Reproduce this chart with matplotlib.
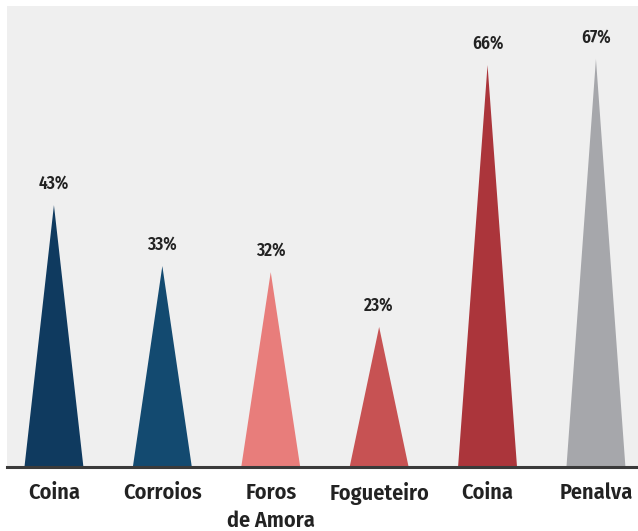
import numpy as np
import matplotlib
matplotlib.use("Agg")
import matplotlib.pyplot as plt

OUT_FILE = "out.png"

places = ["Coina", "Corroios", "Foros\nde Amora", "Fogueteiro", "Coina", "Penalva"]
shares = [43, 33, 32, 23, 66, 67]
colors = ["#0f3a5f", "#134a70", "#e87d7b", "#c75253", "#ab353b", "#a6a7ab"]

FONT = ["Fira Sans Condensed", "DejaVu Sans"]
HALF_WIDTH = 0.272

plt.rcParams['font.family'] = FONT

fig = plt.figure(figsize=(6.38, 5.31), dpi=100)
fig.patch.set_facecolor("white")
# paper-coloured plotting area, white margin on the left and top
ax = fig.add_axes([7 / 638, 64 / 531, 631 / 638, 461 / 531])
ax.set_facecolor("#efefef")

xs = np.arange(len(shares))
for x, v, c in zip(xs, shares, colors):
    ax.fill([x - HALF_WIDTH, x, x + HALF_WIDTH], [0, v, 0], color=c, lw=0)
    ax.annotate(f"{v}%", (x, v), xytext=(0, 9), textcoords="offset points",
                ha="center", va="bottom", fontsize=12.5, fontweight="semibold",
                color="#222222")

ax.set_xlim(-0.433, 5.388)
ax.set_ylim(0, 75.7)
ax.set_xticks(xs)
ax.set_xticklabels(places, fontsize=16, fontweight="semibold", color="#222222",
                   linespacing=1.4, va="top")
ax.tick_params(axis="x", length=0, pad=11)
ax.set_yticks([])

for side in ["top", "left", "right"]:
    ax.spines[side].set_visible(False)
ax.spines["bottom"].set_color("#3a3a3a")
ax.spines["bottom"].set_linewidth(2.2)

fig.savefig(OUT_FILE, dpi=100)
